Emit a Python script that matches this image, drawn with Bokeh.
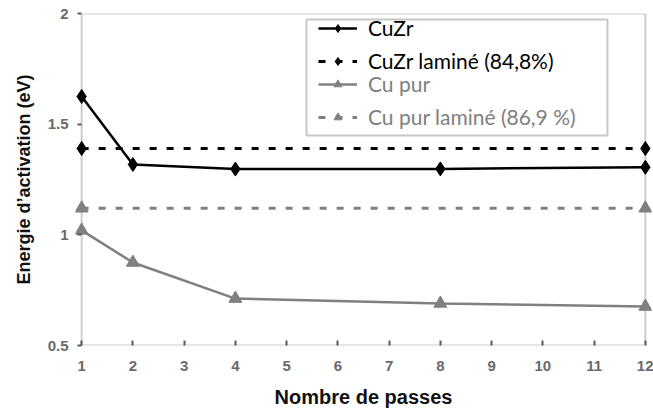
from bokeh.plotting import figure
from bokeh.models import (Range1d, FixedTicker, NumeralTickFormatter, Legend, LegendItem,
                          BoxAnnotation)
from bokeh.embed import file_html
from bokeh.resources import INLINE

# ---- data ----
passes = [1, 2, 4, 8, 12]
cuzr = [1.625, 1.318, 1.297, 1.298, 1.305]
cu_pur = [1.02, 0.875, 0.712, 0.690, 0.676]
lam_x = [1, 12]
cuzr_lamine = [1.39, 1.39]
cu_pur_lamine = [1.12, 1.12]
x_ticks = list(range(1, 13))
y_ticks = [0.5, 1, 1.5, 2]

BLACK = "#000000"
GRAY = "#808080"
AXIS = "#5a5a5a"

pad = 0.12
p = figure(width=653, height=410, output_backend="svg", toolbar_location=None,
           x_range=Range1d(1 - pad, 12 + pad), y_range=Range1d(0.5, 2),
           min_border_left=75, min_border_right=2, min_border_top=13, min_border_bottom=65)
p.outline_line_alpha = 0
p.grid.visible = False
p.background_fill_color = "white"

# frame box
p.add_layout(BoxAnnotation(left=1, right=12, bottom=0.5, top=2, fill_alpha=0,
                           line_color=AXIS, line_width=2, level="underlay"))

# series
r1 = p.line(passes, cuzr, line_color=BLACK, line_width=2.5)
m1 = p.scatter(passes, cuzr, marker="diamond", size=14, color=BLACK)
r2 = p.line(lam_x, cuzr_lamine, line_color=BLACK, line_width=3, line_dash="7 10")
m2 = p.scatter(lam_x, cuzr_lamine, marker="diamond", size=14, color=BLACK)
r3 = p.line(passes, cu_pur, line_color=GRAY, line_width=2.5)
m3 = p.scatter(passes, cu_pur, marker="triangle", size=13, color=GRAY)
r4 = p.line(lam_x, cu_pur_lamine, line_color=GRAY, line_width=3, line_dash="7 10")
m4 = p.scatter(lam_x, cu_pur_lamine, marker="triangle", size=13, color=GRAY)

# axes
for ax in (p.xaxis[0], p.yaxis[0]):
    ax.axis_line_alpha = 0
    ax.major_tick_line_color = AXIS
    ax.major_tick_line_width = 2
    ax.minor_tick_line_alpha = 0
    ax.major_label_text_font = "Liberation Sans"
    ax.major_label_text_font_style = "bold"
    ax.major_label_text_font_size = "15px"
    ax.major_label_text_color = "#6a6a6a"
    ax.axis_label_text_font = "Liberation Sans"
    ax.axis_label_text_font_style = "bold"
    ax.axis_label_text_color = "#111111"

p.xaxis.ticker = FixedTicker(ticks=x_ticks)
p.xaxis.major_tick_in = 5
p.xaxis.major_tick_out = 0
p.xaxis.major_label_standoff = 15
p.xaxis.axis_label = "Nombre de passes"
p.xaxis.axis_label_text_font_size = "20px"
p.xaxis.axis_label_standoff = 12

p.yaxis.ticker = FixedTicker(ticks=y_ticks)
p.yaxis.formatter = NumeralTickFormatter(format="0.[0]")
p.yaxis.major_tick_in = 6
p.yaxis.major_tick_out = -2
p.yaxis.major_label_standoff = 7
p.yaxis.axis_label = "Energie d\u2019activation (eV)"
p.yaxis.axis_label_text_font_size = "18px"
p.yaxis.axis_label_standoff = 11

# legends
def make_legend(items, color, loc):
    return Legend(items=items, location=loc, border_line_alpha=0, background_fill_alpha=0,
                  padding=5, margin=0, spacing=8, label_height=20, glyph_height=20,
                  glyph_width=39, label_standoff=11, label_text_font="Lato",
                  label_text_font_size="21px", label_text_color=color)

legA = make_legend([LegendItem(label="CuZr", renderers=[r1, m1]),
                    LegendItem(label="CuZr lamin\u00e9 (84,8%)", renderers=[r2, m2])],
                   BLACK, (238, 267))
legB = make_legend([LegendItem(label="Cu pur", renderers=[r3, m3]),
                    LegendItem(label="Cu pur lamin\u00e9 (86,9 %)", renderers=[r4, m4])],
                   GRAY, (238, 211))
p.add_layout(legA, "center")
p.add_layout(legB, "center")
p.add_layout(BoxAnnotation(left=231, right=532, bottom=210, top=326,
                           left_units="screen", right_units="screen",
                           bottom_units="screen", top_units="screen",
                           fill_alpha=0, line_color="#444444", line_width=2))

open("out.html", "w").write(file_html(p, INLINE))
